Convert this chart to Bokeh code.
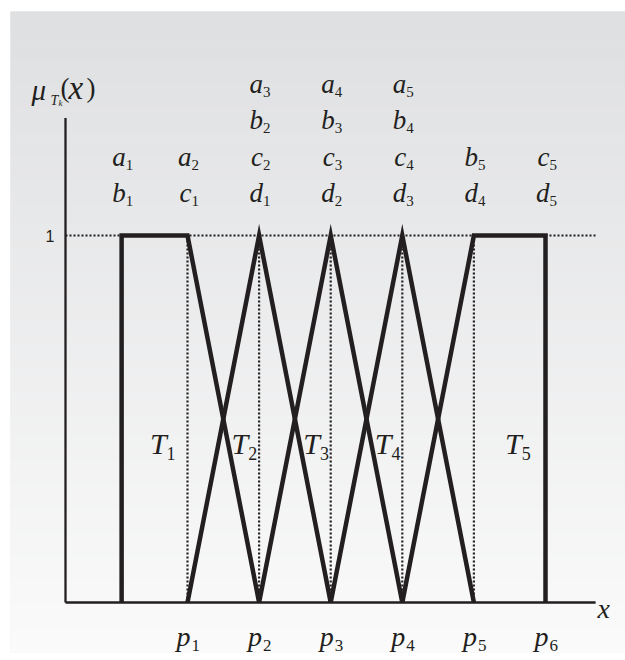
import numpy as np
from bokeh.plotting import figure
from bokeh.models import Range1d
from bokeh.core.properties import value
from bokeh.embed import file_html
from bokeh.resources import INLINE

# ---------------- data ----------------
set_names = ["T1", "T2", "T3", "T4", "T5"]
set_index = ["1", "2", "3", "4", "5"]
a_vals = [0.08, 1, 2, 3, 4]
b_vals = [0.08, 2, 3, 4, 5]
c_vals = [1, 2, 3, 4, 6]
d_vals = [2, 3, 4, 5, 6]
peak = 1.0
p_vals = [1, 2, 3, 4, 5, 6]
p_index = ["1", "2", "3", "4", "5", "6"]
y_tick_vals = [1]
y_tick_labels = ["1"]
x_axis_end = 6.70
y_axis_top = 1.32

# ---------------- layout / style ----------------
INK = "#231f20"
SERIF = value("Liberation Serif")
SANS = value("Liberation Sans")
W, H = 625, 660
PX = 71.6     # pixels per x unit
PY = 367.0    # pixels per y unit
FL, FT, FB = 10, 11, 652
x0 = 1 + (FL - 187) / PX
x1 = 1 + (W - 187) / PX
y0 = -(FB - 602) / PY
y1 = (602 - FT) / PY
axis_x = 1 + (65 - 187) / PX

p = figure(width=W, height=H, x_range=Range1d(x0, x1), y_range=Range1d(y0, y1),
           x_axis_type=None, y_axis_type=None, toolbar_location=None,
           output_backend="svg", min_border_left=FL, min_border_top=FT,
           min_border_right=0, min_border_bottom=H - FB)
p.outline_line_color = None
p.border_fill_color = "white"
p.background_fill_color = "#eeeeee"

# background gradient (style only)
N = 160
edges = np.linspace(y1, y0, N + 1)
top_c = np.array([223, 224, 226])
bot_c = np.array([251, 251, 251])
cols = []
for i in range(N):
    t = i / (N - 1)
    cc = (top_c + (bot_c - top_c) * t).astype(int)
    cols.append("#%02x%02x%02x" % tuple(cc))
p.quad(left=[x0] * N, right=[x1] * N, top=list(edges[:-1]), bottom=list(edges[1:]),
       fill_color=cols, line_color=cols, line_width=1)

# dotted guides
p.line([axis_x, x_axis_end], [peak, peak], line_color=INK, line_width=2.2, line_dash="2 2")
for k in range(5):
    p.line([p_vals[k], p_vals[k]], [0, peak], line_color=INK, line_width=2.2, line_dash="2 2")

# axes
p.line([axis_x, x_axis_end], [0, 0], line_color=INK, line_width=2.3)
p.line([axis_x, axis_x], [0, y_axis_top], line_color=INK, line_width=2.3)

# trapezoids
xs = [[a_vals[i], b_vals[i], c_vals[i], d_vals[i]] for i in range(5)]
ys = [[0, peak, peak, 0] for _ in range(5)]
p.multi_line(xs, ys, line_color=INK, line_width=4.5, line_join="miter", line_cap="butt")


def sub_text(x, y, main, sub, main_size, sub_size, xo, yo, sxo, syo):
    p.text(x=x, y=y, text=main, x_offset=xo, y_offset=yo, text_font=SERIF,
           text_font_style="italic", text_font_size=main_size, text_align="right",
           text_baseline="alphabetic", text_color=INK)
    p.text(x=x, y=y, text=sub, x_offset=sxo, y_offset=syo, text_font=SERIF,
           text_font_style="normal", text_font_size=sub_size, text_align="left",
           text_baseline="alphabetic", text_color=INK)


# column labels above the peak, built from the trapezoid parameters
params = {"a": a_vals, "b": b_vals, "c": c_vals, "d": d_vals}
columns = {}
for letter in "abcd":
    for i, v in enumerate(params[letter]):
        columns.setdefault(v, []).append((letter, set_index[i]))
row_offsets = [-43, -79, -116, -152]   # baselines, bottom row first
for xv, items in columns.items():
    items = sorted(items)
    n = len(items)
    for j, (letter, idx) in enumerate(items):
        yo = row_offsets[n - 1 - j]
        sub_text([xv], [peak], [letter], [idx], "27px", "15px", 4, yo, 4, yo + 8)

# p labels
sub_text(p_vals, [0] * 6, ["p"] * 6, p_index, "28px", "17px", 3, 34, 4, 43)

# T labels
t_x = []
t_xo = []
for i in range(5):
    if i == 0 or i == 4:
        t_x.append((b_vals[i] + c_vals[i]) / 2)
        t_xo.append(12)
    else:
        t_x.append((a_vals[i] + b_vals[i]) / 2)
        t_xo.append(25)
for i in range(5):
    sub_text([t_x[i]], [0.5], ["T"], [set_index[i]], "30px", "18px",
             t_xo[i], 24, t_xo[i], 34)

# axis labels
p.text(x=[x_axis_end], y=[0], text=["x"], x_offset=2, y_offset=6, text_font=SERIF,
       text_font_style="italic", text_font_size="28px", text_align="left",
       text_baseline="alphabetic", text_color=INK)
p.text(x=[axis_x] * len(y_tick_vals), y=y_tick_vals, text=y_tick_labels, x_offset=-11,
       y_offset=0, text_font=SANS, text_font_size="16px", text_align="right",
       text_baseline="middle", text_color=INK)

# mu_{T_k}(x)
p.text(x=[axis_x], y=[y_axis_top], text=["\u03bc"], x_offset=-34, y_offset=-28,
       text_font=SERIF, text_font_style="italic", text_font_size="29px",
       text_align="left", text_baseline="alphabetic", text_color=INK)
p.text(x=[axis_x], y=[y_axis_top], text=["T"], x_offset=-15, y_offset=-18,
       text_font=SERIF, text_font_style="italic", text_font_size="14px",
       text_align="left", text_baseline="alphabetic", text_color=INK)
p.text(x=[axis_x], y=[y_axis_top], text=["k"], x_offset=-7, y_offset=-15,
       text_font=SERIF, text_font_style="italic", text_font_size="9px",
       text_align="left", text_baseline="alphabetic", text_color=INK)
p.text(x=[axis_x], y=[y_axis_top], text=["("], x_offset=-5, y_offset=-30,
       text_font=SERIF, text_font_size="27px",
       text_align="left", text_baseline="alphabetic", text_color=INK)
p.text(x=[axis_x], y=[y_axis_top], text=["x"], x_offset=3, y_offset=-30,
       text_font=SERIF, text_font_style="italic", text_font_size="33px",
       text_align="left", text_baseline="alphabetic", text_color=INK)
p.text(x=[axis_x], y=[y_axis_top], text=[")"], x_offset=30, y_offset=-30,
       text_font=SERIF, text_font_size="27px",
       text_align="right", text_baseline="alphabetic", text_color=INK)

open("out.html", "w").write(file_html(p, INLINE))
